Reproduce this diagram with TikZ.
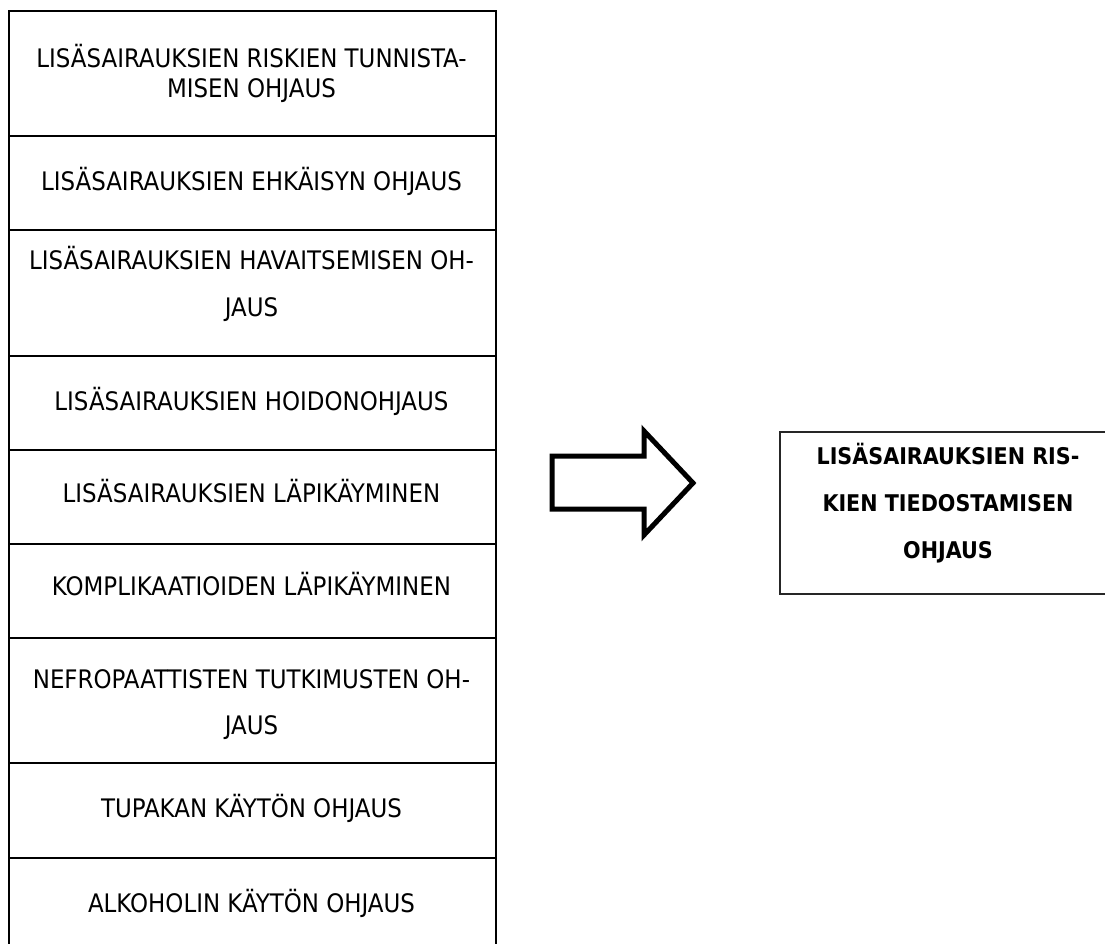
\documentclass[tikz,border=0pt]{standalone}
\usepackage{fontspec}
\setmainfont{DejaVu Sans Condensed}
\begin{document}
\begin{tikzpicture}[x=1pt,y=-1pt,
  cell/.style={draw=black, line width=2pt, minimum width=487pt, inner sep=0pt, anchor=north west},
  % multi-line labels sit on the baseline of their last line
  celltext/.style={anchor=base, align=center, inner sep=0pt, font=\fontsize{25.5}{#1}\selectfont},
  celltext/.default=31,
  resbox/.style={draw=black!85, line width=1.3pt, minimum width=336pt, minimum height=162pt, inner sep=0pt},
  restext/.style={anchor=base, align=center, inner sep=0pt, font=\fontsize{23}{47}\selectfont\bfseries},
  blockarrow/.style={draw=black, line width=5pt, line join=miter, fill=white}]
\useasboundingbox (0,0) rectangle (1105,944);

% left column of guidance topics
\node[cell, minimum height=125pt] (b1) at (8,10) {};
\node[cell, minimum height=94pt]  (b2) at (8,135) {};
\node[cell, minimum height=126pt] (b3) at (8,229) {};
\node[cell, minimum height=94pt]  (b4) at (8,355) {};
\node[cell, minimum height=94pt]  (b5) at (8,449) {};
\node[cell, minimum height=94pt]  (b6) at (8,543) {};
\node[cell, minimum height=125pt] (b7) at (8,637) {};
\node[cell, minimum height=95pt]  (b8) at (8,762) {};
\node[cell, minimum height=94pt]  (b9) at (8,857) {};

\node[celltext=30.5] (t1) at (251.5,98)  {LISÄSAIRAUKSIEN RISKIEN TUNNISTA-\\MISEN OHJAUS};
\node[celltext]      (t2) at (251.5,191) {LISÄSAIRAUKSIEN EHKÄISYN OHJAUS};
\node[celltext=46.5] (t3) at (251.5,316) {LISÄSAIRAUKSIEN HAVAITSEMISEN OH-\\JAUS};
\node[celltext]      (t4) at (251.5,410) {LISÄSAIRAUKSIEN HOIDONOHJAUS};
\node[celltext]      (t5) at (251.5,502) {LISÄSAIRAUKSIEN LÄPIKÄYMINEN};
\node[celltext]      (t6) at (251.5,595) {KOMPLIKAATIOIDEN LÄPIKÄYMINEN};
\node[celltext=46]   (t7) at (251.5,734) {NEFROPAATTISTEN TUTKIMUSTEN OH-\\JAUS};
\node[celltext]      (t8) at (251.5,817) {TUPAKAN KÄYTÖN OHJAUS};
\node[celltext]      (t9) at (251.5,912) {ALKOHOLIN KÄYTÖN OHJAUS};

% block arrow
\draw[blockarrow] (552,456) -- (644,456) -- (644,431) -- (693,483)
  -- (644,535) -- (644,509) -- (552,509) -- cycle;

% resulting guidance
\node[resbox] (res) at (948,513) {};
\node[restext] (rt) at (948,558) {LISÄSAIRAUKSIEN RIS-\\KIEN TIEDOSTAMISEN\\OHJAUS};
\end{tikzpicture}
\end{document}
